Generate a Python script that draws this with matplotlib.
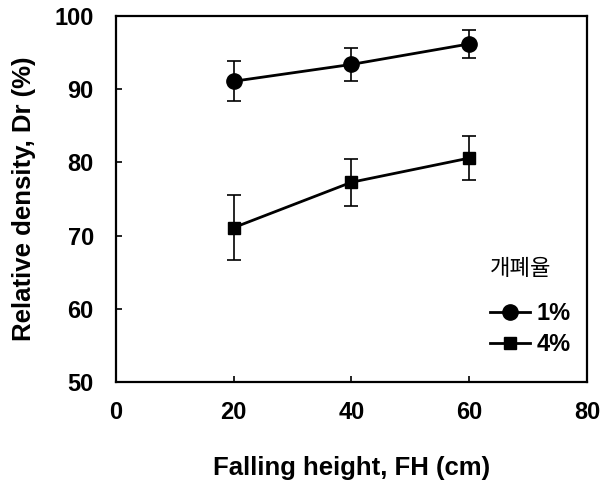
import numpy as np
import matplotlib
matplotlib.use("Agg")
import matplotlib.pyplot as plt

plt.rcParams['font.family'] = ['Liberation Sans', 'DejaVu Sans']

heights = [20, 40, 60]
dr_1 = [91.1, 93.4, 96.2]
err_1 = [2.7, 2.2, 1.9]
dr_4 = [71.1, 77.3, 80.6]
err_4 = [4.4, 3.2, 3.0]
labels = ['1%', '4%']

fig = plt.figure(figsize=(6.03, 4.84), dpi=100)
ax = fig.add_axes([0.1924, 0.2107, 0.781, 0.756])

ax.errorbar(heights, dr_1, yerr=err_1, color='black', marker='o', markersize=11,
            linewidth=2, capsize=5, elinewidth=1.2, capthick=1.2, label=labels[0])
ax.errorbar(heights, dr_4, yerr=err_4, color='black', marker='s', markersize=8.5,
            linewidth=2, capsize=5, elinewidth=1.2, capthick=1.2, label=labels[1])

ax.set_xlim(0, 80)
ax.set_ylim(50, 100)
ax.set_xticks([0, 20, 40, 60, 80])
ax.set_yticks([50, 60, 70, 80, 90, 100])
ax.tick_params(direction='in', length=4, width=1.2, labelsize=17)
ax.tick_params(axis='y', pad=16)
ax.tick_params(axis='x', pad=14)
for lab in ax.get_xticklabels() + ax.get_yticklabels():
    lab.set_fontweight('bold')
for sp in ax.spines.values():
    sp.set_linewidth(1.6)

ax.set_xlabel('Falling height, FH (cm)', fontsize=18.5, fontweight='bold', labelpad=23)
ax.set_ylabel('Relative density, Dr (%)', fontsize=18.5, fontweight='bold', labelpad=13)

handles, _ = ax.get_legend_handles_labels()
handles = [h[0] for h in handles]
leg = ax.legend(handles, labels, loc='upper left', bbox_to_anchor=(0.748, 0.40),
                frameon=False, handlelength=1.7, handletextpad=0.3, labelspacing=0.35,
                title='개폐율', prop={'size': 17, 'weight': 'bold'},
                title_fontproperties={'family': 'Noto Sans CJK KR', 'size': 16})
leg._legend_box.align = 'left'
leg._legend_box.sep = 16

fig.savefig('out.png', dpi=100)
